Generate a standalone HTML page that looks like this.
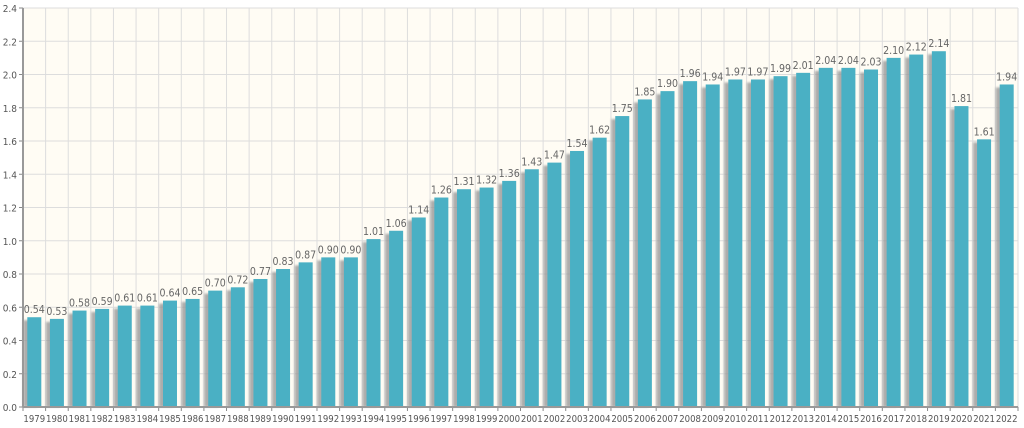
<!DOCTYPE html>
<html><head><meta charset="utf-8"><style>
html,body{margin:0;padding:0;background:#fff;width:1024px;height:428px;overflow:hidden}
svg{display:block;font-family:"DejaVu Sans Condensed","Liberation Sans",sans-serif}
</style></head><body>
<svg id="c" width="1024" height="428" xmlns="http://www.w3.org/2000/svg"></svg>
<script>
var v=[0.54,0.53,0.58,0.59,0.61,0.61,0.64,0.65,0.70,0.72,0.77,0.83,0.87,0.90,0.90,1.01,1.06,1.14,1.26,1.31,1.32,1.36,1.43,1.47,1.54,1.62,1.75,1.85,1.90,1.96,1.94,1.97,1.97,1.99,2.01,2.04,2.04,2.03,2.10,2.12,2.14,1.81,1.61,1.94];
var L=23,R=1018,T=8,B=407,n=v.length,w=(R-L)/n,s=(B-T)/2.4,h='';
h+='<defs><filter id="bl" x="-50%" y="-5%" width="200%" height="110%"><feGaussianBlur stdDeviation="1"/></filter></defs>';
h+='<rect x="'+L+'" y="'+T+'" width="'+(R-L)+'" height="'+(B-T)+'" fill="#fffcf4"/>';
for(var i=0;i<=12;i++){var y=B-i*0.2*s;h+='<line x1="'+L+'" x2="'+R+'" y1="'+y+'" y2="'+y+'" stroke="#ddd"/>';
h+='<line x1="'+(L-4)+'" x2="'+L+'" y1="'+y+'" y2="'+y+'" stroke="#888"/>';
h+='<text x="'+(L-6)+'" y="'+(y+4)+'" font-size="10" fill="#555" text-anchor="end">'+(i*0.2).toFixed(1)+'</text>';}
for(var i=0;i<=n;i++){var x=L+i*w;h+='<line x1="'+x+'" x2="'+x+'" y1="'+T+'" y2="'+B+'" stroke="#ddd"/>';h+='<line x1="'+x+'" x2="'+x+'" y1="'+B+'" y2="'+(B+4)+'" stroke="#888"/>';}
for(var i=0;i<n;i++){var cx=L+(i+0.5)*w,bh=v[i]*s,y=B-bh;
h+='<rect x="'+(cx-11)+'" y="'+(y+3)+'" width="14" height="'+(bh-3)+'" fill="#999" opacity="0.8" filter="url(#bl)"/>';
h+='<rect x="'+(cx-7)+'" y="'+y+'" width="14" height="'+bh+'" fill="#4ab0c4"/>';
h+='<text x="'+cx+'" y="'+(y-4)+'" font-size="10.5" fill="#666" text-anchor="middle">'+v[i].toFixed(2)+'</text>';
h+='<text x="'+cx+'" y="422" font-size="9.5" fill="#555" text-anchor="middle">'+(1979+i)+'</text>';}
h+='<line x1="'+L+'" x2="'+L+'" y1="'+T+'" y2="'+B+'" stroke="#999" stroke-width="2"/>';
h+='<line x1="'+L+'" x2="'+R+'" y1="'+B+'" y2="'+B+'" stroke="#999" stroke-width="2"/>';
document.getElementById('c').innerHTML=h;
</script>
</body></html>
